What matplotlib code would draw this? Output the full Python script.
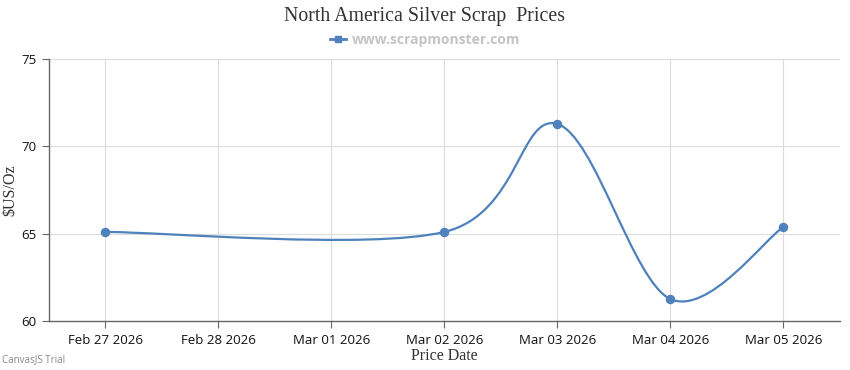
import datetime as dt
import matplotlib
matplotlib.use('Agg')
import matplotlib.pyplot as plt
from matplotlib.path import Path
from matplotlib.patches import PathPatch
from matplotlib.lines import Line2D

# data
dates = ['2026-02-27', '2026-03-02', '2026-03-03', '2026-03-04', '2026-03-05']
prices = [65.1, 65.1, 71.28, 61.26, 65.38]
tick_labels = ['Feb 27 2026', 'Feb 28 2026', 'Mar 01 2026', 'Mar 02 2026',
               'Mar 03 2026', 'Mar 04 2026', 'Mar 05 2026']
y_ticks = [60, 65, 70, 75]

BLUE = '#4f81bc'
SERIF = 'Liberation Serif'
SANS = 'Open Sans'

d0 = dt.date.fromisoformat(dates[0])
xs = [(dt.date.fromisoformat(d) - d0).days for d in dates]
pts = list(zip(xs, prices))


def spline_path(p, tension=2.0):
    # cardinal spline as cubic beziers (same scheme CanvasJS uses)
    verts = [p[0]]
    codes = [Path.MOVETO]
    n = len(p)
    for i in range(1, n):
        a = i - 1
        i1, i2 = max(a - 1, 0), min(a + 1, n - 1)
        c1 = (p[a][0] + (p[i2][0] - p[i1][0]) / tension / 3,
              p[a][1] + (p[i2][1] - p[i1][1]) / tension / 3)
        i1, i2 = max(i - 1, 0), min(i + 1, n - 1)
        c2 = (p[i][0] - (p[i2][0] - p[i1][0]) / tension / 3,
              p[i][1] - (p[i2][1] - p[i1][1]) / tension / 3)
        verts += [c1, c2, p[i]]
        codes += [Path.CURVE4] * 3
    return Path(verts, codes)


fig = plt.figure(figsize=(8.5, 3.7), dpi=100)
ax = fig.add_axes([0.0576, 0.1324, 0.9304, 0.7081])

ax.add_patch(PathPatch(spline_path(pts), fill=False, edgecolor=BLUE, lw=1.6, zorder=3))
ax.plot(xs, prices, 'o', color=BLUE, ms=5.8, zorder=4)

ax.set_xlim(-0.5, 6.5)
ax.set_ylim(60, 75)
ax.set_xticks(range(len(tick_labels)))
ax.set_xticklabels(tick_labels)
ax.set_yticks(y_ticks)
ax.grid(color='#dcdcdc', lw=0.8)
ax.set_axisbelow(True)
for s in ['top', 'right']:
    ax.spines[s].set_visible(False)
for s in ['left', 'bottom']:
    ax.spines[s].set_color('#666666')
    ax.spines[s].set_linewidth(1.0)
ax.tick_params(axis='both', colors='#666666', length=5, width=0.8,
               labelcolor='#111111', labelsize=9.5, pad=4)
for lbl in ax.get_xticklabels() + ax.get_yticklabels():
    lbl.set_fontfamily(SANS)

ax.set_xlabel('Price Date', family=SERIF, fontsize=11.5, color='#333333', labelpad=1)
ax.set_ylabel('$US/Oz', family=SERIF, fontsize=11.5, color='#333333', va='center')
ax.yaxis.set_label_coords(-0.049, 0.5)

fig.text(0.5, 0.956, 'North America Silver Scrap  Prices', ha='center', va='center',
         family=SERIF, fontsize=14.3, color='#333333')
handle = Line2D([], [], color=BLUE, lw=2, marker='s', ms=5)
fig.legend([handle], ['www.scrapmonster.com'], loc='center', bbox_to_anchor=(0.5, 0.892),
           frameon=False, handlelength=1.2, handletextpad=0.4,
           prop={'family': SANS, 'size': 10, 'weight': 'bold'}, labelcolor='#c4c4c4')
fig.text(0.002, 0.012, 'CanvasJS Trial', family=SANS, fontsize=7, color='#888888',
         ha='left', va='bottom')

fig.savefig('out.png', dpi=100)
